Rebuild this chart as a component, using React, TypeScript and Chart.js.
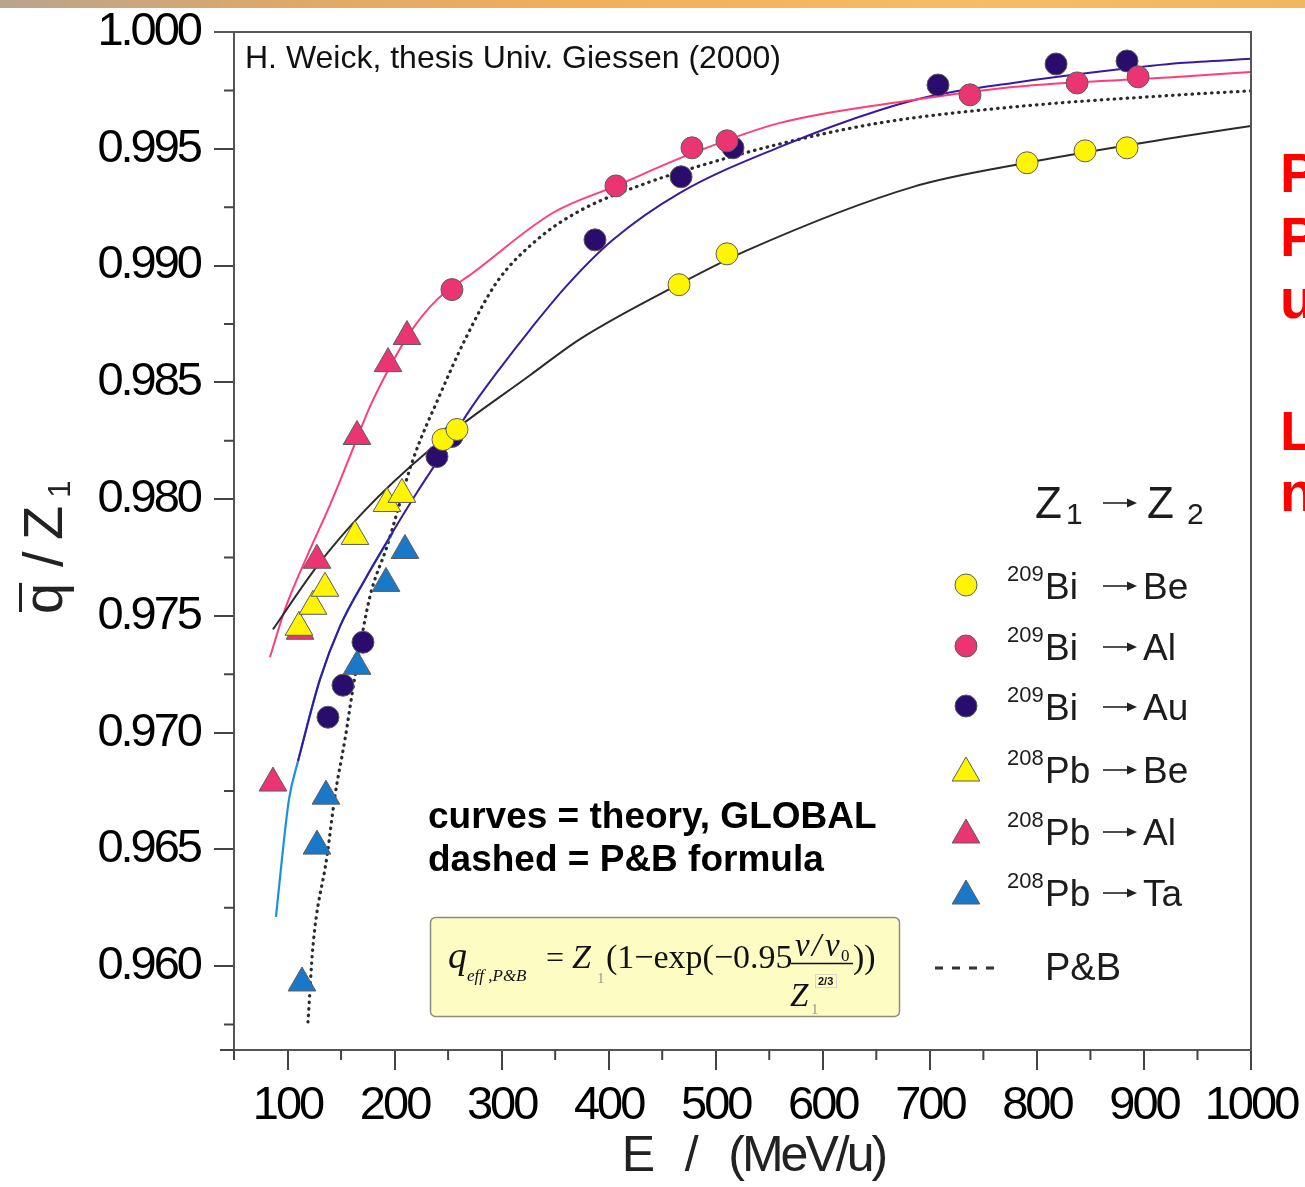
import { useEffect, useRef } from 'react';
import { Chart, registerables } from 'chart.js';

Chart.register(...registerables);

const CANVAS_W = 1305;
const CANVAS_H = 1187;

// ---- measured points: beam energy E (MeV/u) vs. mean charge q/Z1 ----
const biBeEnergy = [245.2, 258.3, 465.7, 510.5, 790.8, 845.0, 884.2];
const biBeCharge = [0.98255, 0.98298, 0.98918, 0.9905, 0.9944, 0.99491, 0.99504];

const biAlEnergy = [253.6, 406.8, 477.8, 510.5, 737.5, 837.5, 894.5];
const biAlCharge = [0.98897, 0.99341, 0.99504, 0.99534, 0.99731, 0.99782, 0.99808];

const biAuEnergy = [137.8, 151.8, 170.5, 239.6, 253.6, 387.2, 467.6, 516.1, 707.6, 817.9, 884.2];
const biAuCharge = [0.97066, 0.97203, 0.97387, 0.98182, 0.98268, 0.9911, 0.9938, 0.99504, 0.99773, 0.99863, 0.99876];

const pbBeEnergy = [110.7, 123.8, 135.0, 163.0, 192.9, 206.9];
const pbBeCharge = [0.97451, 0.97541, 0.97618, 0.9784, 0.97981, 0.9802];

const pbAlEnergy = [86.4, 111.7, 127.5, 164.9, 193.9, 211.6];
const pbAlCharge = [0.96784, 0.97434, 0.97738, 0.98268, 0.9858, 0.98696];

const pbTaEnergy = [113.5, 127.5, 135.9, 164.9, 192.0, 209.7];
const pbTaCharge = [0.95928, 0.96514, 0.96728, 0.97284, 0.97639, 0.9778];

// ---- GLOBAL theory curves ----
const beCurveEnergy = [86.4, 127.5, 170.5, 233.1, 326.5, 373.2, 464.8, 529.2, 684.3, 790.8, 933.7, 1000];
const beCurveCharge = [0.97442, 0.97712, 0.97943, 0.98212, 0.9853, 0.98685, 0.98918, 0.99065, 0.99337, 0.9944, 0.99551, 0.99598];

const alCurveEnergy = [83.6, 97.6, 118.2, 139.7, 158.4, 177.0, 195.7, 214.4, 239.6, 273.3, 348.0, 406.8, 477.8, 560.0, 684.3, 777.7, 933.7, 1000];
const alCurveCharge = [0.97323, 0.97528, 0.97755, 0.97975, 0.98185, 0.98396, 0.98567, 0.98713, 0.98854, 0.98969, 0.99226, 0.99341, 0.9948, 0.99611, 0.99709, 0.99765, 0.99808, 0.99829];

const auCurveEnergy = [109.8, 130.3, 149.0, 172.4, 195.7, 220.9, 245.2, 270.5, 298.5, 326.5, 361.1, 404.0, 466.6, 560.0, 653.5, 706.7, 777.7, 871.1, 933.7, 1000];
const auCurveCharge = [0.96878, 0.97228, 0.97455, 0.97656, 0.9784, 0.98028, 0.98199, 0.98383, 0.9856, 0.98725, 0.98915, 0.9911, 0.99311, 0.99508, 0.99666, 0.99731, 0.99782, 0.99837, 0.99867, 0.99885];

const taCurveEnergy = [89.2, 94.8, 101.4, 109.8, 130.3, 149.0, 172.4, 198.5];
const taCurveCharge = [0.96211, 0.96459, 0.96715, 0.96878, 0.97228, 0.97455, 0.97656, 0.97857];

// ---- P&B formula curve ----
const pbFormulaEnergy = [119.1, 123.8, 136.9, 144.3, 153.7, 163.0, 177.0, 192.9, 217.2, 242.4, 265.8, 295.7, 333.0, 373.2, 435.8, 482.5, 560.0, 653.5, 777.7, 933.7, 1000];
const pbFormulaCharge = [0.95761, 0.96087, 0.96471, 0.96728, 0.96972, 0.97241, 0.97583, 0.97797, 0.98169, 0.98447, 0.98683, 0.9893, 0.9911, 0.99235, 0.99354, 0.99423, 0.99521, 0.99611, 0.99679, 0.99731, 0.99748];

// ---- axes ----
const X_MIN = 50;
const X_MAX = 1000;
const Y_MIN = 0.95641;
const Y_MAX = 1.0;
const xMajorTicks = [100, 200, 300, 400, 500, 600, 700, 800, 900, 1000];
const xMinorTicks = [50, 150, 250, 350, 450, 550, 650, 750, 850, 950];
const yMajorTicks = [0.96, 0.965, 0.97, 0.975, 0.98, 0.985, 0.99, 0.995, 1.0];
const yMinorTicks = [0.9575, 0.9625, 0.9675, 0.9725, 0.9775, 0.9825, 0.9875, 0.9925, 0.9975];

// ---- colours ----
const YELLOW = '#fff500';
const PINK = '#ea3572';
const PURPLE = '#2a0c6c';
const BLUE = '#1a78c8';
const MARKER_EDGE = '#5c5c5c';

type Row = { mass: string; ion: string; target: string; style: 'circle' | 'triangle'; color: string };
const legendRows: Row[] = [
  { mass: '209', ion: 'Bi', target: 'Be', style: 'circle', color: YELLOW },
  { mass: '209', ion: 'Bi', target: 'Al', style: 'circle', color: PINK },
  { mass: '209', ion: 'Bi', target: 'Au', style: 'circle', color: PURPLE },
  { mass: '208', ion: 'Pb', target: 'Be', style: 'triangle', color: YELLOW },
  { mass: '208', ion: 'Pb', target: 'Al', style: 'triangle', color: PINK },
  { mass: '208', ion: 'Pb', target: 'Ta', style: 'triangle', color: BLUE },
];

const SANS = '"Liberation Sans", Arial, Helvetica, sans-serif';
const SERIF = '"Liberation Serif", "Times New Roman", serif';

function fontAvailable(name: string): boolean {
  const c = document.createElement('canvas').getContext('2d');
  if (!c) return false;
  const sample = '0123456789 mmmwwwlli';
  c.font = '40px monospace';
  const w1 = c.measureText(sample).width;
  c.font = `40px "${name}", monospace`;
  const w2 = c.measureText(sample).width;
  return Math.abs(w1 - w2) > 0.5;
}

const HAS_NARROW = fontAvailable('Liberation Sans Narrow');
const TICK_FONT = HAS_NARROW
  ? { family: '"Liberation Sans Narrow", "Liberation Sans", sans-serif', size: 51 }
  : { family: SANS, size: 47 };
const TICK_SPACING = HAS_NARROW ? '0px' : '-3px';

const pts = (xs: number[], ys: number[]) => xs.map((x, i) => ({ x, y: ys[i] }));

const curve = (label: string, xs: number[], ys: number[], color: string, width: number, extra: any = {}) => ({
  label,
  data: pts(xs, ys),
  showLine: true,
  borderColor: color,
  borderWidth: width,
  pointRadius: 0,
  pointHoverRadius: 0,
  fill: false,
  cubicInterpolationMode: 'monotone',
  order: 10,
  ...extra,
});

const markers = (label: string, xs: number[], ys: number[], color: string, style: string, radius: number, order: number) => ({
  label,
  data: pts(xs, ys),
  showLine: false,
  pointStyle: style,
  pointRadius: radius,
  pointHoverRadius: radius,
  backgroundColor: color,
  borderColor: MARKER_EDGE,
  pointBackgroundColor: color,
  pointBorderColor: MARKER_EDGE,
  pointBorderWidth: 1,
  order,
});

function drawCircle(ctx: CanvasRenderingContext2D, x: number, y: number, r: number, fill: string) {
  ctx.beginPath();
  ctx.arc(x, y, r, 0, Math.PI * 2);
  ctx.fillStyle = fill;
  ctx.fill();
  ctx.strokeStyle = MARKER_EDGE;
  ctx.lineWidth = 1;
  ctx.stroke();
}

function drawTriangle(ctx: CanvasRenderingContext2D, x: number, y: number, r: number, fill: string) {
  ctx.beginPath();
  for (let k = 0; k < 3; k++) {
    const a = (k * 2 * Math.PI) / 3;
    const px = x + Math.sin(a) * r;
    const py = y - Math.cos(a) * r;
    if (k === 0) ctx.moveTo(px, py);
    else ctx.lineTo(px, py);
  }
  ctx.closePath();
  ctx.fillStyle = fill;
  ctx.fill();
  ctx.strokeStyle = MARKER_EDGE;
  ctx.lineWidth = 1;
  ctx.stroke();
}

function drawArrow(ctx: CanvasRenderingContext2D, x1: number, x2: number, y: number) {
  ctx.strokeStyle = '#222';
  ctx.fillStyle = '#222';
  ctx.lineWidth = 1.6;
  ctx.beginPath();
  ctx.moveTo(x1, y);
  ctx.lineTo(x2 - 8, y);
  ctx.stroke();
  ctx.beginPath();
  ctx.moveTo(x2 - 10, y - 4.5);
  ctx.lineTo(x2, y);
  ctx.lineTo(x2 - 10, y + 4.5);
  ctx.closePath();
  ctx.fill();
}

const decorPlugin = {
  id: 'decor',
  beforeDraw(chart: any) {
    (chart.ctx as any).letterSpacing = TICK_SPACING;
  },
  afterDraw(chart: any) {
    const ctx: CanvasRenderingContext2D = chart.ctx;
    const a = chart.chartArea;
    const xs = chart.scales.x;
    const ys = chart.scales.y;
    ctx.save();
    (ctx as any).letterSpacing = '0px';

    // slide header strip
    const g = ctx.createLinearGradient(0, 0, CANVAS_W, 0);
    g.addColorStop(0, '#b8a58f');
    g.addColorStop(0.2, '#dca86a');
    g.addColorStop(0.45, '#f0b05a');
    g.addColorStop(0.75, '#f5bd66');
    g.addColorStop(1, '#f0b660');
    ctx.fillStyle = g;
    ctx.fillRect(0, 0, CANVAS_W, 8);

    // frame: top and right edges
    ctx.strokeStyle = '#555';
    ctx.lineWidth = 2;
    ctx.beginPath();
    ctx.moveTo(a.left - 20, a.top);
    ctx.lineTo(a.right, a.top);
    ctx.lineTo(a.right, a.bottom);
    ctx.stroke();

    // minor ticks and axis stubs
    ctx.strokeStyle = '#444';
    ctx.lineWidth = 2;
    ctx.beginPath();
    for (const v of xMinorTicks) {
      const px = xs.getPixelForValue(v);
      ctx.moveTo(px, a.bottom);
      ctx.lineTo(px, a.bottom + 10);
    }
    for (const v of yMinorTicks) {
      const py = ys.getPixelForValue(v);
      ctx.moveTo(a.left - 10, py);
      ctx.lineTo(a.left, py);
    }
    ctx.moveTo(a.left - 14, a.bottom);
    ctx.lineTo(a.left, a.bottom);
    ctx.moveTo(a.left, a.bottom);
    ctx.lineTo(a.left, a.bottom + 8);
    ctx.stroke();

    // y-axis title: q-bar / Z1
    ctx.save();
    ctx.translate(62, 540);
    ctx.rotate(-Math.PI / 2);
    ctx.fillStyle = '#222';
    ctx.font = `56px ${SANS}`;
    ctx.textBaseline = 'alphabetic';
    ctx.fillText('q', -74, 0);
    const qw = ctx.measureText('q').width;
    ctx.fillRect(-74 + 2, -43, qw - 2, 3);
    ctx.fillText('/', -27, 0);
    ctx.fillText('Z', 0, 0);
    const zw = ctx.measureText('Z').width;
    ctx.font = `31px ${SANS}`;
    ctx.fillText('1', zw + 8, 8);
    ctx.restore();

    // source note
    ctx.fillStyle = '#111';
    ctx.font = `32px ${SANS}`;
    ctx.textBaseline = 'alphabetic';
    ctx.fillText('H. Weick, thesis Univ. Giessen (2000)', 245, 68);

    // curve note
    ctx.font = `bold 37px ${SANS}`;
    ctx.fillStyle = '#000';
    ctx.fillText('curves = theory, GLOBAL', 428, 828);
    ctx.fillText('dashed = P&B formula', 428, 871);

    // formula box
    ctx.beginPath();
    (ctx as any).roundRect(430.5, 917.5, 469, 99, 5);
    ctx.fillStyle = '#fdfcc2';
    ctx.fill();
    ctx.strokeStyle = '#8d8d7d';
    ctx.lineWidth = 1.5;
    ctx.stroke();

    ctx.fillStyle = '#111';
    ctx.font = `italic 38px ${SERIF}`;
    ctx.fillText('q', 448, 968);
    ctx.font = `italic 17px ${SERIF}`;
    ctx.fillText('eff ,P&B', 467, 981);
    ctx.font = `32px ${SERIF}`;
    ctx.fillText('=', 546, 968);
    ctx.font = `italic 34px ${SERIF}`;
    ctx.fillText('Z', 572, 968);
    ctx.fillStyle = '#9a9a9a';
    ctx.font = `15px ${SERIF}`;
    ctx.fillText('1', 597, 983);
    ctx.fillStyle = '#111';
    ctx.font = `34px ${SERIF}`;
    ctx.fillText('(1\u2212exp(\u22120.95', 606, 968);
    // fraction (v/v0) / Z1^(2/3)
    ctx.font = `italic 33px ${SERIF}`;
    ctx.fillText('v', 795, 956);
    ctx.fillText('/', 812, 956);
    ctx.fillText('v', 825, 956);
    ctx.font = `17px ${SERIF}`;
    ctx.fillText('0', 841, 961);
    ctx.strokeStyle = '#111';
    ctx.lineWidth = 1.5;
    ctx.beginPath();
    ctx.moveTo(791, 963.5);
    ctx.lineTo(853, 963.5);
    ctx.stroke();
    ctx.font = `italic 33px ${SERIF}`;
    ctx.fillText('Z', 790, 1006);
    ctx.font = `bold 11px ${SANS}`;
    ctx.fillText('2/3', 818, 985);
    ctx.strokeStyle = '#d8d8c8';
    ctx.lineWidth = 1;
    ctx.strokeRect(815.5, 974.5, 21, 13);
    ctx.fillStyle = '#9a9a9a';
    ctx.font = `15px ${SERIF}`;
    ctx.fillText('1', 811, 1014);
    ctx.fillStyle = '#111';
    ctx.font = `34px ${SERIF}`;
    ctx.fillText('))', 853, 968);

    // legend
    ctx.fillStyle = '#1c1c1c';
    ctx.font = `44px ${SANS}`;
    ctx.fillText('Z', 1035, 518);
    ctx.fillText('Z', 1147, 518);
    ctx.font = `30px ${SANS}`;
    ctx.fillText('1', 1066, 524);
    ctx.fillText('2', 1187, 524);
    drawArrow(ctx, 1103, 1137, 503);

    const rowY = [585, 646, 706, 769, 831, 892];
    legendRows.forEach((row, i) => {
      const cy = rowY[i];
      if (row.style === 'circle') drawCircle(ctx, 966, cy, 11, row.color);
      else drawTriangle(ctx, 966, cy + 4, 16, row.color);
      ctx.fillStyle = '#1c1c1c';
      ctx.font = `22px ${SANS}`;
      ctx.fillText(row.mass, 1007, cy - 4);
      ctx.font = `37px ${SANS}`;
      ctx.fillText(row.ion, 1045, cy + 14);
      drawArrow(ctx, 1103, 1137, cy + 1);
      ctx.fillStyle = '#1c1c1c';
      ctx.font = `37px ${SANS}`;
      ctx.fillText(row.target, 1143, cy + 14);
    });
    ctx.strokeStyle = '#333';
    ctx.lineWidth = 3;
    ctx.setLineDash([8, 9]);
    ctx.beginPath();
    ctx.moveTo(935, 968);
    ctx.lineTo(1000, 968);
    ctx.stroke();
    ctx.setLineDash([]);
    ctx.fillStyle = '#1c1c1c';
    ctx.font = `38px ${SANS}`;
    ctx.fillText('P&B', 1045, 980);

    // red side text of the slide
    ctx.fillStyle = '#ff0000';
    ctx.font = `bold 56px ${SANS}`;
    const side: [string, number][] = [['P', 192], ['P', 256], ['u', 318], ['L', 450], ['n', 511]];
    for (const [t, y] of side) ctx.fillText(t, 1280, y);

    ctx.restore();
  },
};

export default function App() {
  const ref = useRef<HTMLCanvasElement>(null);

  useEffect(() => {
    if (!ref.current) return;
    const tickFont = { family: TICK_FONT.family, size: TICK_FONT.size };
    const chart = new Chart(ref.current, {
      type: 'scatter',
      data: {
        datasets: [
          curve('P&B', pbFormulaEnergy, pbFormulaCharge, '#2a2a2a', 3.2, { borderDash: [0.5, 6], borderCapStyle: 'round', order: 12 }),
          curve('208Pb \u2192 Ta theory', taCurveEnergy, taCurveCharge, '#1e8fe0', 2.2, { order: 11 }),
          curve('209Bi \u2192 Be theory', beCurveEnergy, beCurveCharge, '#2b2b2b', 2),
          curve('209Bi \u2192 Al theory', alCurveEnergy, alCurveCharge, '#ff3d7d', 2),
          curve('209Bi \u2192 Au theory', auCurveEnergy, auCurveCharge, '#3a1a9c', 2),
          markers('208Pb \u2192 Ta', pbTaEnergy, pbTaCharge, BLUE, 'triangle', 16, 6),
          markers('209Bi \u2192 Au', biAuEnergy, biAuCharge, PURPLE, 'circle', 11, 5),
          markers('208Pb \u2192 Al', pbAlEnergy, pbAlCharge, PINK, 'triangle', 16, 4),
          markers('209Bi \u2192 Al', biAlEnergy, biAlCharge, PINK, 'circle', 11, 3),
          markers('208Pb \u2192 Be', pbBeEnergy, pbBeCharge, YELLOW, 'triangle', 16, 2),
          markers('209Bi \u2192 Be', biBeEnergy, biBeCharge, YELLOW, 'circle', 11, 1),
        ] as any,
      },
      options: {
        responsive: false,
        maintainAspectRatio: false,
        animation: false,
        devicePixelRatio: 1,
        events: [],
        layout: { padding: { top: 32, right: 54, left: 0, bottom: 0 } },
        plugins: {
          legend: { display: false },
          tooltip: { enabled: false },
          title: { display: false },
        },
        scales: {
          x: {
            type: 'linear',
            min: X_MIN,
            max: X_MAX,
            afterBuildTicks: (s: any) => {
              s.ticks = xMajorTicks.map((v) => ({ value: v }));
            },
            afterFit: (s: any) => {
              s.height = CANVAS_H - 1050;
              s.paddingLeft = 0;
              s.paddingRight = 0;
              s.paddingTop = 0;
              s.paddingBottom = 0;
            },
            ticks: {
              font: tickFont,
              color: '#000',
              padding: 8,
              maxRotation: 0,
              autoSkip: false,
              callback: (v: any) => String(v),
            },
            grid: { display: true, drawOnChartArea: false, drawTicks: true, tickLength: 20, color: '#444', lineWidth: 2 },
            border: { display: true, color: '#555', width: 2 },
            title: {
              display: true,
              text: '  E   /   (MeV/u)',
              color: '#222',
              font: { family: SANS, size: 50 },
              padding: { top: 0, bottom: 0 },
            },
          },
          y: {
            type: 'linear',
            min: Y_MIN,
            max: Y_MAX,
            afterBuildTicks: (s: any) => {
              s.ticks = yMajorTicks.map((v) => ({ value: v }));
            },
            afterFit: (s: any) => {
              s.width = 234;
              s.paddingLeft = 0;
              s.paddingRight = 0;
              s.paddingTop = 0;
              s.paddingBottom = 0;
            },
            ticks: {
              font: tickFont,
              color: '#000',
              padding: 14,
              autoSkip: false,
              callback: (v: any) => Number(v).toFixed(3),
            },
            grid: { display: true, drawOnChartArea: false, drawTicks: true, tickLength: 20, color: '#444', lineWidth: 2 },
            border: { display: true, color: '#555', width: 2 },
          },
        },
      },
      plugins: [decorPlugin],
    } as any);
    return () => chart.destroy();
  }, []);

  return (
    <div style={{ position: 'absolute', left: 0, top: 0, width: CANVAS_W, height: CANVAS_H, background: '#fff', overflow: 'hidden' }}>
      <canvas ref={ref} width={CANVAS_W} height={CANVAS_H} style={{ display: 'block', width: CANVAS_W, height: CANVAS_H }} />
    </div>
  );
}
